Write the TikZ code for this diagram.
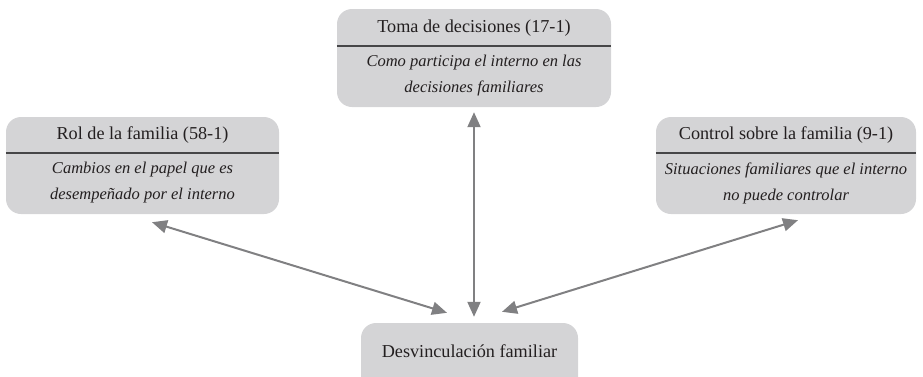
\documentclass[tikz,border=0pt]{standalone}
\usepackage{fontspec}
\setmainfont{Liberation Serif}
\usetikzlibrary{arrows.meta,calc}
\definecolor{boxfill}{RGB}{212,212,214}
\definecolor{txt}{RGB}{35,31,32}
\definecolor{divline}{RGB}{70,70,72}
\definecolor{arr}{RGB}{128,128,130}
\tikzset{
  catbox/.style={draw=none,fill=boxfill,rounded corners=15pt,inner sep=0pt},
  titletext/.style={text=txt,font=\fontsize{18.2}{21}\selectfont,inner sep=0pt},
  bodytext/.style={text=txt,font=\fontsize{16.5}{26}\selectfont\itshape,align=center,inner sep=0pt},
  divider/.style={draw=divline,line width=1.4pt},
  link/.style={draw=arr,line width=2pt,{Triangle[length=15pt,width=13pt]}-{Triangle[length=15pt,width=13pt]}}
}
\begin{document}
\begin{tikzpicture}[x=1pt,y=-1pt]
\path[use as bounding box] (0,0) rectangle (923,376);
\clip (0,0) rectangle (923,376);
% boxes
\node[catbox,minimum width=274pt,minimum height=98pt] (top) at (474,58) {};
\node[catbox,minimum width=273pt,minimum height=97pt] (left) at (142.5,165.5) {};
\node[catbox,minimum width=260pt,minimum height=97pt] (right) at (786,165.5) {};
\node[catbox,minimum width=217pt,minimum height=80pt] (bottom) at (469.5,363) {};
% dividers
\draw[divider] (top.west |- 0,46) -- (top.east |- 0,46);
\draw[divider] (left.west |- 0,153) -- (left.east |- 0,153);
\draw[divider] (right.west |- 0,153) -- (right.east |- 0,153);
% texts
\node[titletext] (toptitle) at (474,28) {Toma de decisiones (17-1)};
\node[bodytext] (topbody) at (474,76) {Como participa el interno en las\\decisiones familiares};
\node[titletext] (lefttitle) at (142.5,135) {Rol de la familia (58-1)};
\node[bodytext] (leftbody) at (142.5,183) {Cambios en el papel que es\\desempeñado por el interno};
\node[titletext] (righttitle) at (786,135) {Control sobre la familia (9-1)};
\node[bodytext] (rightbody) at (786,183) {Situaciones familiares que el interno\\no puede controlar};
\node[titletext] (bottomtitle) at (469.5,351) {Desvinculación familiar};
% connectors
\draw[link] ($(left.south)+(9.5,8)$) -- ($(bottom.north)+(-22.5,-10)$);
\draw[link] ($(top.south)+(0,5)$) -- ($(bottom.north)+(4.5,-6)$);
\draw[link] ($(right.south)+(12,6)$) -- ($(bottom.north)+(32.5,-11)$);
\end{tikzpicture}
\end{document}
